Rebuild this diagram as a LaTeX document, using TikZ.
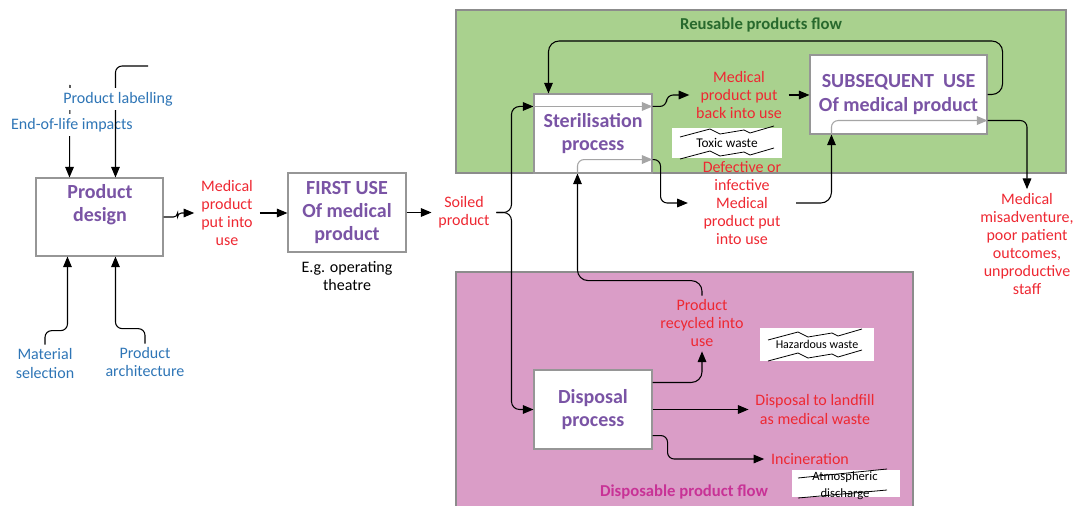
\documentclass[tikz,border=0pt]{standalone}
\usepackage{fontspec}
\setmainfont{Carlito}
\usetikzlibrary{arrows.meta,calc}
\definecolor{greenbg}{RGB}{169,209,142}
\definecolor{pinkbg}{RGB}{218,157,199}
\definecolor{regionborder}{RGB}{140,140,140}
\definecolor{boxgray}{RGB}{150,150,150}
\definecolor{purp}{RGB}{122,84,165}
\definecolor{myred}{RGB}{238,40,50}
\definecolor{myblue}{RGB}{46,117,182}
\definecolor{dkgreen}{RGB}{40,105,45}
\definecolor{mymagenta}{RGB}{200,50,150}
\definecolor{arrgray}{RGB}{165,165,165}
\begin{document}
\begin{tikzpicture}[x=0.75pt,y=-0.75pt,
  box/.style={draw=boxgray, fill=white, line width=0.8pt, align=center,
    font=\bfseries\fontsize{15}{17.5}\selectfont, text=purp, inner sep=0pt},
  titletext/.style={align=center, font=\bfseries\fontsize{15}{17.5}\selectfont, text=purp, inner sep=0pt},
  lbl/.style={align=center, font=\fontsize{12}{13.5}\selectfont, inner xsep=5pt, inner ysep=3pt},
  redlbl/.style={lbl, text=myred},
  bluelbl/.style={lbl, text=myblue},
  wastebox/.style={fill=white, inner sep=0pt, font=\fontsize{9}{12.5}\selectfont, align=center},
  arr/.style={-{Triangle[length=8pt,width=6.5pt]}, line width=0.8pt, rounded corners=5pt},
  garr/.style={arr, draw=arrgray, -{Triangle[length=8pt,width=6.5pt,fill=arrgray]}},
  zig/.style={line width=0.6pt}
]
\clip (0,0) rectangle (1073,506);
\useasboundingbox (0,0) rectangle (1073,506);

% regions
\draw[fill=greenbg, draw=regionborder, line width=0.8pt] (456,10) rectangle (1066,173);
\draw[fill=pinkbg, draw=regionborder, line width=0.8pt] (456,272) rectangle (913,520);
\node[font=\bfseries\fontsize{12.5}{14}\selectfont, text=dkgreen] (rtitle) at (761,25) {Reusable products flow};
\node[font=\bfseries\fontsize{12.5}{14}\selectfont, text=mymagenta] (dtitle) at (684,492) {Disposable product flow};

% boxes
\node[box, minimum width=95.25pt, minimum height=58.5pt] (pd) at (99.5,217) {};
\node[titletext] (pdt) at (100,205) {Product\\design};
\node[box, minimum width=88.5pt, minimum height=59.25pt] (fu) at (347,212.5) {FIRST USE\\Of medical\\product};
\node[box, minimum width=88.5pt, minimum height=59.25pt] (ster) at (593,133.5) {Sterilisation\\process};
\node[box, minimum width=132.75pt, minimum height=59.25pt] (sub) at (898.5,94.5) {SUBSEQUENT\ \ USE\\Of medical product};
\node[box, minimum width=88.5pt, minimum height=59.25pt] (disp) at (593,409.5) {Disposal\\process};

% labels (no fill)
\node[bluelbl] (mat) at (45,363.5) {Material\\selection};
\node[bluelbl] (arch) at (145,362.5) {Product\\architecture};
\node[redlbl] (mp) at (227,213) {Medical\\product\\put into\\use};
\node[lbl] (eg) at (347,276.5) {E.g. operating\\theatre};
\node[redlbl] (soil) at (464,212.5) {Soiled\\product};
\node[redlbl] (back) at (739,95) {Medical\\product put\\back into use};
\node[redlbl, inner xsep=11pt] (def) at (742,203) {Defective or\\infective\\Medical\\product put\\into use};
\node[redlbl] (mis) at (1027,244) {Medical\\misadventure,\\poor patient\\outcomes,\\unproductive\\staff};
\node[redlbl] (rec) at (702,323.5) {Product\\recycled into\\use};
\node[redlbl] (land) at (815,409.5) {Disposal to landfill\\as medical waste};
\node[redlbl] (inc) at (810,459) {Incineration};

% top inputs of product design
\coordinate (eoltop) at (70,85);
\coordinate (labtop) at (148,66);
\draw[arr] (eoltop) -- ($(pd.north west)+(34,0)$);
\node[bluelbl, fill=white] (eol) at (72,125) {End-of-life impacts};
\draw[arr] (labtop) -| ($(pd.north west)+(80,0)$);
\node[bluelbl, fill=white] (lab) at (118,99) {Product labelling};

% bottom inputs
\draw[arr] (mat.north) -- ++(0,-14) -| ($(pd.south west)+(32,0)$);
\draw[arr] (arch.north) -- ++(0,-15) -| ($(pd.south west)+(80,0)$);

% main flow
\draw[arr, rounded corners=3pt] (pd.east) -- ++(14,0) -- ++(0,-4) -- (mp.west);
\draw[arr] (mp.east) -- (mp.east -| fu.west);
\draw[arr] (fu.east) -- (fu.east -| soil.west);
\draw[arr, rounded corners=6pt] (soil.east) -- ++(15,0) |- ($(ster.north west)+(0,13)$);
\draw[arr, rounded corners=6pt] (soil.east) -- ++(15,0) |- (disp.west);

% sterilisation
\draw[garr] ($(ster.north west)+(0,13)$) -- ($(ster.north east)+(0,13)$);
\draw[arr] ($(ster.north east)+(0,13)$) -- ++(14,0) |- (back.west);
\draw[arr] (back.east) -- (back.east -| sub.west);
\draw[arr, rounded corners=8pt] (sub.east) -- ++(15,0) -- ++(0,-53.5) -| ($(ster.north west)+(15,0)$);
\draw[garr] ($(sub.south west)+(22,0)$) |- ($(sub.south east)+(0,-14)$);
\draw[arr] ($(sub.south east)+(0,-14)$) -| (mis.north);

\draw[arr, rounded corners=8pt] (rec.north) -- ++(0,-15) -| ($(ster.south west)+(44,0)$);
\draw[garr] ($(ster.south west)+(44,0)$) |- ($(ster.south east)+(0,-14)$);
\draw[arr] ($(ster.south east)+(0,-14)$) -- ++(8,0) |- (def.west);
\draw[arr, rounded corners=8pt] (def.east) -| ($(sub.south west)+(22,0)$);

% disposal
\draw[arr, rounded corners=8pt] ($(disp.north east)+(0,13)$) -| (rec.south);
\draw[arr] (disp.east) -- (disp.east -| land.west);
\draw[arr] ($(disp.south east)+(0,-14)$) -- ++(15,0) |- (inc.west);

% waste tags
\node[wastebox, font=\fontsize{10}{12}\selectfont, minimum width=82.5pt, minimum height=22.5pt] (tox) at (727,143) {Toxic waste};
\draw[zig] (680,137) -- ++(30,-8) -- ++(10,5) -- ++(24,-4) -- ++(6,3) -- ++(24,-7);
\draw[zig] (680,159) -- ++(30,-8) -- ++(10,5) -- ++(24,-4) -- ++(6,3) -- ++(24,-7);

\node[wastebox, minimum width=85.5pt, minimum height=24.75pt] (haz) at (817,344.5) {Hazardous waste};
\draw[zig] (768,340) -- ++(30,-8) -- ++(10,5) -- ++(24,-4) -- ++(6,3) -- ++(24,-7);
\draw[zig] (768,361) -- ++(30,-8) -- ++(10,5) -- ++(24,-4) -- ++(6,3) -- ++(24,-7);

\node[wastebox, minimum width=81pt, minimum height=20.25pt] (atmbg) at (846,483.5) {};
\node[wastebox, fill=none, font=\fontsize{9.5}{12.5}\selectfont] (atm) at (845,485.5) {Atmospheric\\discharge};
\draw[zig] (798,478) -- (887,469);
\draw[zig] (798,498) -- (887,490);
\end{tikzpicture}
\end{document}
